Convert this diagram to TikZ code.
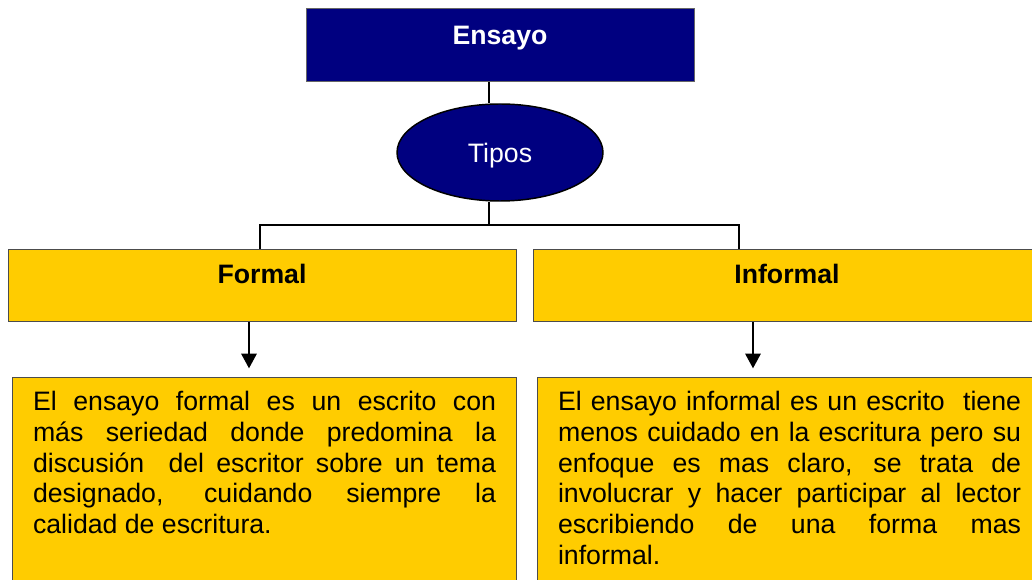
\documentclass[tikz,border=0pt]{standalone}
\usepackage{fontspec}
\setmainfont{Liberation Sans}
\usepackage{xcolor}
\usetikzlibrary{arrows.meta, shapes.geometric}
\definecolor{navy}{HTML}{000080}
\definecolor{gold}{HTML}{FFCC00}

\begin{document}
\begin{tikzpicture}[
    x=0.75pt, y=-0.75pt,
    every node/.style={font=\fontsize{20pt}{23pt}\selectfont},
    headbox/.style={draw=black!60, line width=0.75pt, fill=navy, text=white,
      font=\fontsize{20pt}{23pt}\selectfont\bfseries, inner sep=0pt,
      minimum width=291pt, text height=27pt, text depth=27.75pt},
    tipobox/.style={ellipse, draw=black, line width=1.1pt, fill=navy, text=white,
      inner sep=0pt, minimum width=154.5pt, minimum height=72.75pt, text depth=0pt},
    kindbox/.style={draw=black!70, line width=0.75pt, fill=gold,
      font=\fontsize{20pt}{23pt}\selectfont\bfseries, inner sep=0pt,
      minimum width=381pt, text height=25.5pt, text depth=28.5pt},
    notebox/.style={draw=black!70, line width=0.75pt, fill=gold,
      inner xsep=15.4pt, inner ysep=10.5pt, anchor=north west},
    link/.style={line width=1.5pt},
    pointer/.style={line width=1.5pt, -{Triangle[width=11.5pt,length=11pt]}, shorten >=6.5pt}
  ]
  \useasboundingbox (0,0) rectangle (1032,580);
  \clip (0,0) rectangle (1032,580);

  \node[headbox, anchor=north] (ensayo) at (500,8) {Ensayo};
  \node[tipobox] (tipos) at (500,152.5) {Tipos};
  \node[kindbox, anchor=north] (formal) at (262,249) {Formal};
  \node[kindbox, anchor=north] (informal) at (787,249) {Informal};

  \node[notebox] (formalnote) at (12,377) {\parbox[t][160pt][t]{347.25pt}{\sloppy
    El ensayo formal es un escrito con\linebreak
    más seriedad donde predomina la\linebreak
    discusión\ \ del escritor sobre un tema\linebreak
    designado, cuidando siempre la\linebreak
    calidad de escritura.}};
  \node[notebox] (informalnote) at (537,377) {\parbox[t][160pt][t]{347.25pt}{\sloppy
    El ensayo informal es un escrito\ \ tiene\linebreak
    menos cuidado en la escritura pero su\linebreak
    enfoque es mas claro, se trata de\linebreak
    involucrar y hacer participar al lector\linebreak
    escribiendo de una forma mas\linebreak
    informal.}};

  % tree
  \coordinate (trunk) at (489,225);
  \coordinate (jl) at (260,225);
  \coordinate (jr) at (739,225);
  \coordinate (fdrop) at (249,0);
  \coordinate (idrop) at (753,0);
  \draw[link] (ensayo.south -| trunk) -- (tipos.north -| trunk);
  \draw[link] (tipos.south -| trunk) -- (trunk);
  \draw[link] (jl |- formal.north) -- (jl) -- (jr) -- (jr |- informal.north);
  \draw[pointer] (formal.south -| fdrop) -- (formalnote.north -| fdrop);
  \draw[pointer] (informal.south -| idrop) -- (informalnote.north -| idrop);
\end{tikzpicture}
\end{document}
